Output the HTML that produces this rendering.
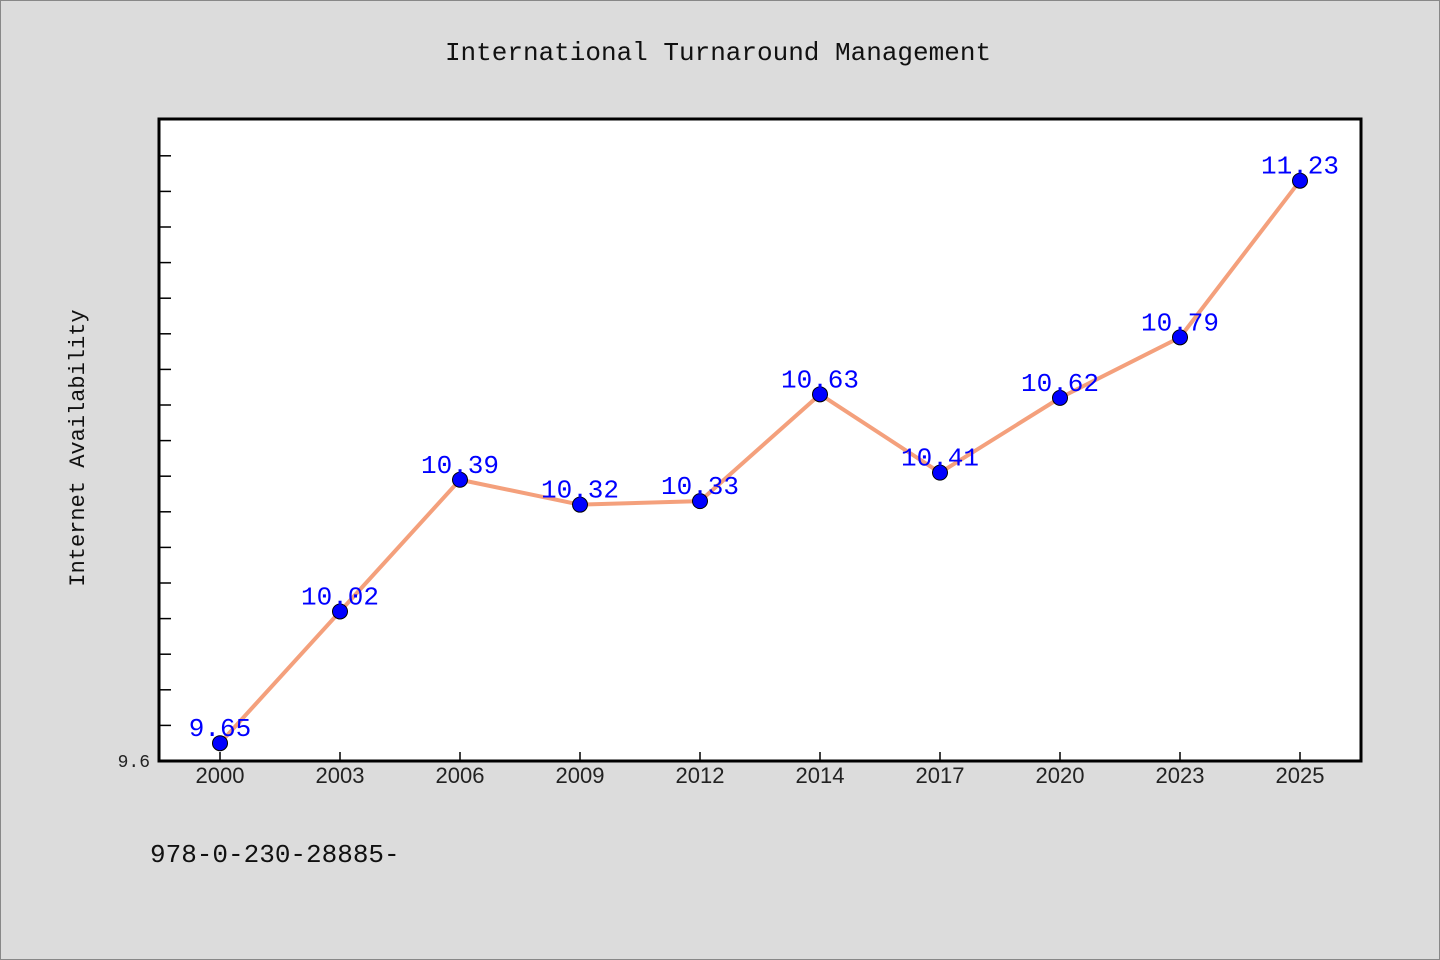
<!DOCTYPE html>
<html><head><meta charset="utf-8"><style>
body{margin:0;background:#dcdcdc;}
svg{display:block;font-family:"WenQuanYi Zen Hei","Liberation Mono",monospace;}
</style></head><body>
<svg width="1440" height="960">
<rect x="0.5" y="0.5" width="1439" height="959" fill="#dcdcdc" stroke="#888"/>
<text x="718" y="60" text-anchor="middle" font-size="26" fill="#111">International Turnaround Management</text>
<rect x="159" y="119" width="1202" height="642" fill="#fff" stroke="#000" stroke-width="3"/>
<text transform="translate(84,448) rotate(-90)" text-anchor="middle" font-size="22" fill="#111">Internet Availability</text>
<text x="150" y="767" text-anchor="end" font-size="18" fill="#222">9.6</text>
<text x="150" y="862" font-size="26" fill="#111">978-0-230-28885-</text>
<g id="ticks"></g><g id="xl"></g>
<polyline id="line" fill="none" stroke="#f4a07c" stroke-width="4" stroke-linejoin="round"/>
<g id="pts"></g>
</svg>
<script>
const categories=["2000","2003","2006","2009","2012","2014","2017","2020","2023","2025"];
const values=[9.65,10.02,10.39,10.32,10.33,10.63,10.41,10.62,10.79,11.23];
const yMin=9.6, yPerUnit=356, y0=761;
const ns="http://www.w3.org/2000/svg";
const X=i=>220+i*120, Y=v=>y0-(v-yMin)*yPerUnit;
const tk=document.getElementById('ticks'), xl=document.getElementById('xl'), pts=document.getElementById('pts');
function mk(tag,a,p){const e=document.createElementNS(ns,tag);for(const k in a)e.setAttribute(k,a[k]);p.appendChild(e);return e;}
for(let i=1;i<=17;i++){const y=Y(yMin+i*0.1);
 const l=mk('line',{x1:159,x2:171,y1:y,y2:y,stroke:'#000','stroke-width':1.5},tk);
 
 }
categories.forEach((c,i)=>{
 const l=mk('line',{x1:X(i),x2:X(i),y1:761,y2:752,stroke:'#000','stroke-width':1.5},tk);
 
 
 const t=mk('text',{x:X(i),y:783,'text-anchor':'middle','font-size':22,fill:'#222',"font-family":"Liberation Sans, sans-serif"},xl);
 t.textContent=c;
 
 
});
document.getElementById('line').setAttribute('points',values.map((v,i)=>X(i)+','+Y(v)).join(' '));
values.forEach((v,i)=>{
 const c=mk('circle',{cx:X(i),cy:Y(v),r:7.5,fill:'#0000ff',stroke:'#000','stroke-width':1},pts);
 
 
 const t=mk('text',{x:X(i),y:Y(v)-7,'text-anchor':'middle','font-size':26,fill:'#0000ff'},pts);
 t.textContent=v.toFixed(2);
 
 
});
</script>
</body></html>
